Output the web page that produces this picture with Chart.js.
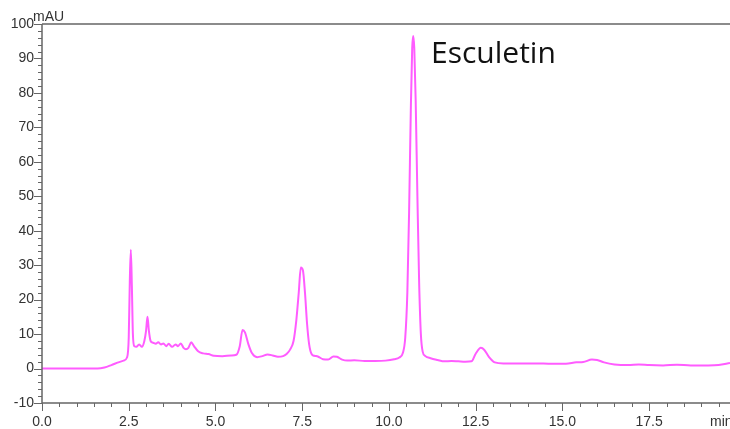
<!DOCTYPE html>
<html>
<head>
<meta charset="utf-8">
<script src="https://cdn.jsdelivr.net/npm/chart.js@4"></script>
<style>
  html, body { margin: 0; padding: 0; background: #fff; }
  #wrap { width: 730px; height: 429px; position: relative; }
</style>
</head>
<body>
<div id="wrap"><canvas id="chrom"></canvas></div>
<script>
// retention time (min) and absorbance (mAU)
const times = [0, 1.0, 1.6, 1.8, 2.0, 2.2, 2.35, 2.45, 2.5, 2.53, 2.56, 2.59, 2.62, 2.66, 2.72, 2.8, 2.88, 2.95, 3.0, 3.04, 3.08, 3.13,
  3.2, 3.28, 3.35, 3.43, 3.5, 3.58, 3.65, 3.75, 3.85, 3.92, 4.0, 4.08, 4.15, 4.22, 4.3, 4.38, 4.5, 4.65, 4.8, 4.95, 5.2, 5.45,
  5.6, 5.7, 5.78, 5.85, 5.95, 6.05, 6.2, 6.35, 6.5, 6.65, 6.8, 6.95, 7.05, 7.15, 7.25, 7.33, 7.4, 7.46, 7.52, 7.58, 7.64, 7.7,
  7.77, 7.85, 7.95, 8.1, 8.25, 8.4, 8.5, 8.65, 8.8, 9.0, 9.3, 9.6, 9.9, 10.15, 10.3, 10.4, 10.47, 10.53, 10.58, 10.63, 10.67,
  10.7, 10.73, 10.77, 10.82, 10.87, 10.92, 10.97, 11.05, 11.2, 11.4, 11.6, 11.8, 12.0, 12.2, 12.38, 12.5, 12.65, 12.75, 12.88,
  13.05, 13.3, 13.7, 14.2, 14.7, 15.1, 15.4, 15.6, 15.85, 16.0, 16.2, 16.5, 16.9, 17.2, 17.5, 17.9, 18.3, 18.7, 19.2, 19.5, 19.83];
const mAU = [0, 0, 0, 0.3, 1.0, 1.8, 2.3, 3.2, 9, 25, 34.5, 24, 10, 6.5, 6.3, 7.0, 6.3, 8, 11, 15, 11, 8,
  7.5, 7.2, 7.6, 7.0, 7.3, 6.5, 7.2, 6.3, 7.0, 6.5, 7.3, 6.0, 5.6, 6.0, 7.6, 6.5, 5.0, 4.4, 4.2, 3.7, 3.6, 3.8,
  4.0, 6.5, 11.2, 10.5, 7.0, 4.5, 3.3, 3.6, 4.1, 3.8, 3.4, 3.6, 4.2, 5.5, 8, 14, 22, 29.3, 28.5, 22, 13, 7,
  4.2, 3.7, 3.5, 2.7, 2.6, 3.5, 3.4, 2.6, 2.3, 2.4, 2.2, 2.2, 2.3, 2.7, 3.2, 4.5, 9, 22, 45, 75, 93,
  96.5, 93, 78, 50, 25, 10, 5, 3.6, 3.0, 2.5, 2.1, 2.2, 2.1, 2.0, 2.1, 4.3, 6.0, 5.4, 3.4,
  1.8, 1.5, 1.5, 1.5, 1.4, 1.4, 1.8, 1.9, 2.6, 2.5, 1.8, 1.2, 1.0, 1.2, 1.0, 0.9, 1.1, 0.9, 0.9, 1.0, 1.6];
const xMajor = [0, 2.5, 5, 7.5, 10, 12.5, 15, 17.5];
const yMajor = [-10, 0, 10, 20, 30, 40, 50, 60, 70, 80, 90, 100];
const peakName = "Esculetin";

const axisColor = '#666';
const textColor = '#333';

// draws axis frame, minor/major ticks and extra labels using the chart scales
const chromAxes = {
  id: 'chromAxes',
  afterDraw(chart) {
    const ctx = chart.ctx;
    const xs = chart.scales.x, ys = chart.scales.y;
    const a = chart.chartArea;
    ctx.save();
    ctx.strokeStyle = axisColor;
    ctx.lineWidth = 1.5;
    ctx.beginPath();
    ctx.moveTo(a.left, a.top); ctx.lineTo(a.right, a.top);
    ctx.moveTo(a.left, a.top); ctx.lineTo(a.left, a.bottom);
    ctx.moveTo(a.left, a.bottom); ctx.lineTo(a.right, a.bottom);
    ctx.stroke();

    ctx.lineWidth = 1;
    ctx.beginPath();
    for (let v = -10; v <= 100; v += 2) {
      const y = Math.round(ys.getPixelForValue(v)) + 0.5;
      const len = v % 10 === 0 ? 8 : 4;
      ctx.moveTo(a.left, y); ctx.lineTo(a.left - len, y);
    }
    for (let t = 0; t <= xs.max; t += 0.5) {
      const x = Math.round(xs.getPixelForValue(t)) + 0.5;
      const len = Math.abs(t / 2.5 - Math.round(t / 2.5)) < 1e-6 ? 8 : 4;
      ctx.moveTo(x, a.bottom); ctx.lineTo(x, a.bottom + len);
    }
    ctx.stroke();

    ctx.fillStyle = textColor;
    ctx.font = '14px "Liberation Sans", Arial, sans-serif';
    ctx.textAlign = 'right';
    ctx.textBaseline = 'middle';
    yMajor.forEach(v => ctx.fillText(String(v), a.left - 8, ys.getPixelForValue(v)));
    ctx.textAlign = 'center';
    ctx.textBaseline = 'alphabetic';
    xMajor.forEach(t => ctx.fillText(t.toFixed(1), xs.getPixelForValue(t), 426));
    ctx.textAlign = 'left';
    ctx.fillText('mAU', 33, 21);
    ctx.fillText('min', 710, 426);

    // peak annotation
    ctx.fillStyle = '#111';
    ctx.font = '30px "Open Sans", "Noto Sans", sans-serif';
    ctx.fillText(peakName, 431, 63);
    ctx.restore();
  }
};

new Chart(document.getElementById('chrom'), {
  type: 'line',
  data: {
    datasets: [{
      data: times.map((t, i) => ({ x: t, y: mAU[i] })),
      borderColor: '#ff5cff',
      borderWidth: 2,
      pointRadius: 0,
      cubicInterpolationMode: 'monotone',
      fill: false
    }]
  },
  options: {
    responsive: true,
    maintainAspectRatio: false,
    animation: false,
    layout: { padding: { left: 0, right: 0, top: 24, bottom: 0 } },
    plugins: { legend: { display: false }, tooltip: { enabled: false } },
    scales: {
      x: {
        type: 'linear', min: 0, max: 19.83,
        grid: { display: false }, border: { display: false },
        ticks: { display: false },
        afterFit(s) { s.height = 26; }
      },
      y: {
        min: -10, max: 100,
        grid: { display: false }, border: { display: false },
        ticks: { display: false },
        afterFit(s) { s.width = 42; }
      }
    }
  },
  plugins: [chromAxes]
});
</script>
</body>
</html>
